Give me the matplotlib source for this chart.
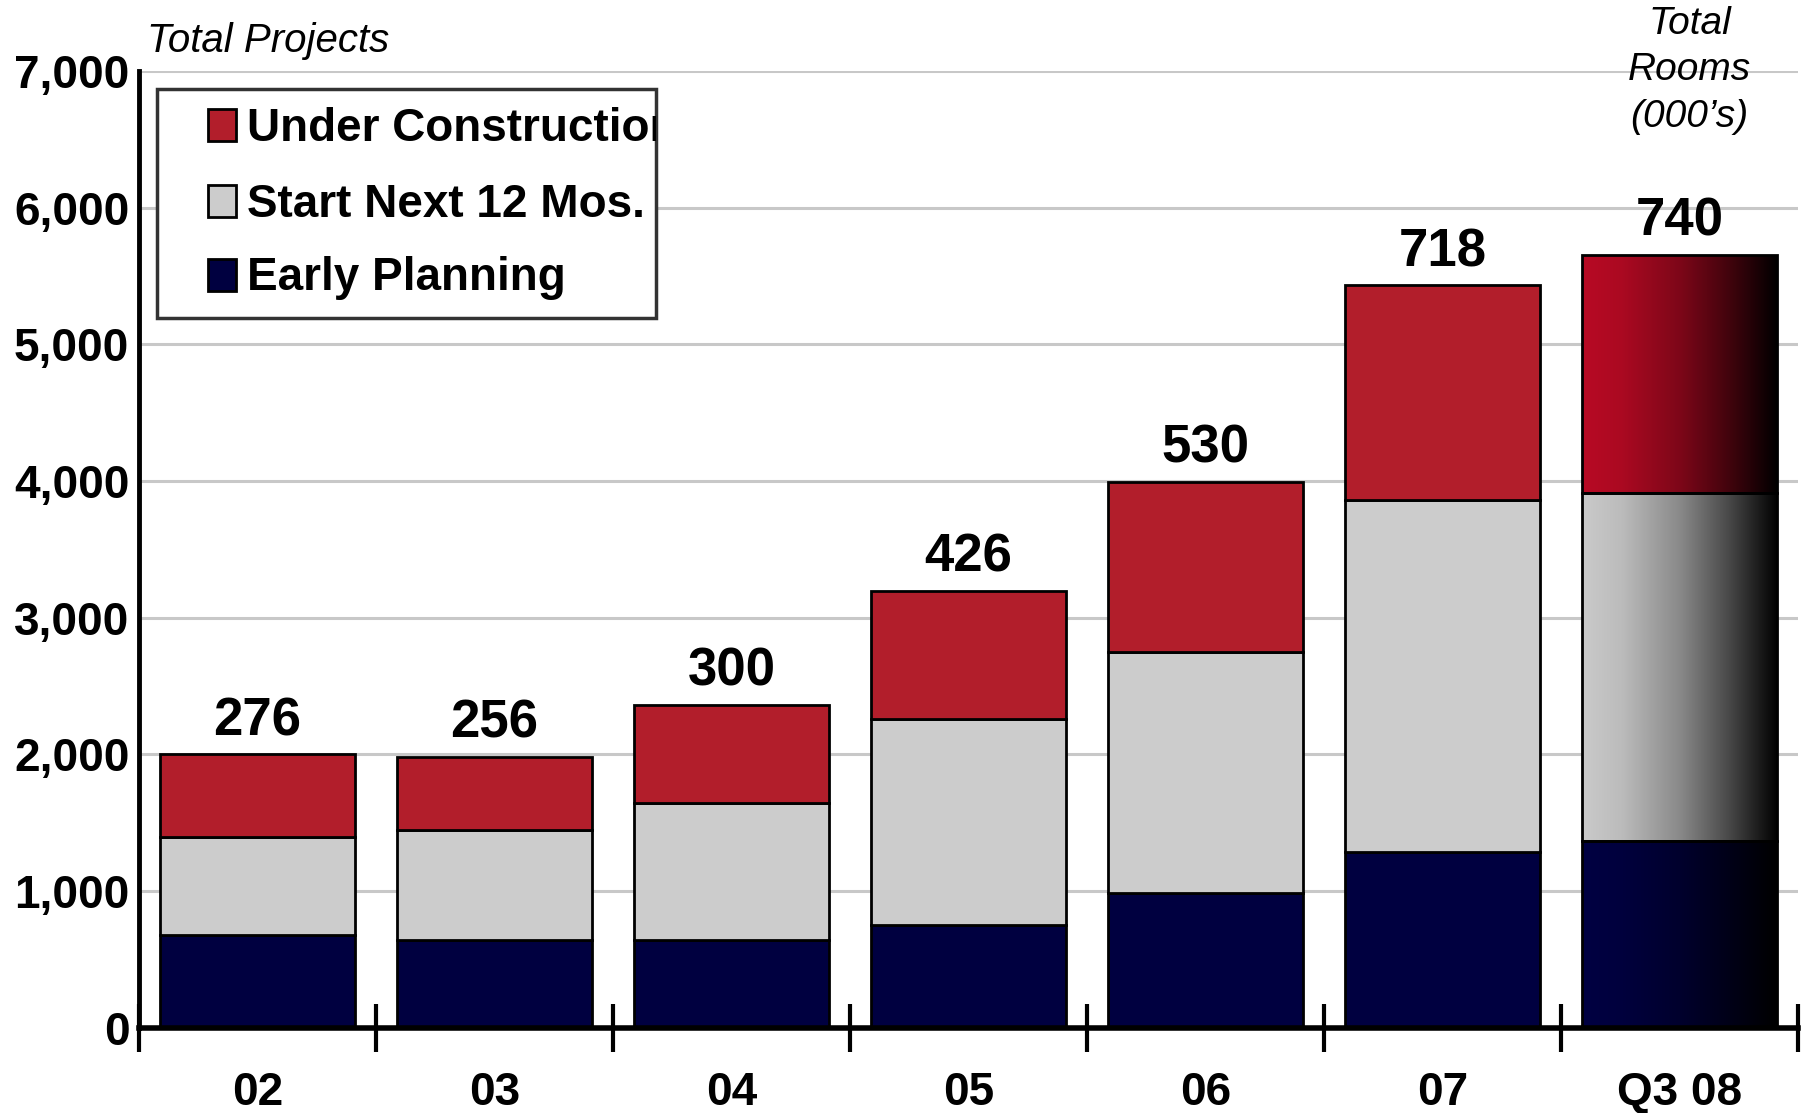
import numpy as np
import matplotlib
matplotlib.use('Agg')
from matplotlib import pyplot as plt
from matplotlib.patches import Rectangle
from matplotlib.colors import LinearSegmentedColormap, to_rgb

plt.rcParams['font.family'] = ['Liberation Sans', 'DejaVu Sans']

# data
years = ['02', '03', '04', '05', '06', '07', 'Q3 08']
early_planning = [680, 640, 640, 750, 990, 1290, 1370]
start_next = [720, 810, 1005, 1510, 1760, 2570, 2540]
under_construction = [600, 535, 715, 935, 1245, 1570, 1740]
total_rooms = ['276', '256', '300', '426', '530', '718', '740']
series_names = ['Under Construction', 'Start Next 12 Mos.', 'Early Planning']

red = '#b21e2b'
grey = '#cccccc'
navy = '#000040'

fig = plt.figure(figsize=(18.05, 11.13), dpi=100)
ax = fig.add_axes([0.077, 0.0764, 0.919, 0.860])

x = np.arange(len(years))
w = 0.825
b1 = ax.bar(x, early_planning, w, color=navy, edgecolor='black', lw=2, zorder=2)
bottom2 = np.array(early_planning)
b2 = ax.bar(x, start_next, w, bottom=bottom2, color=grey, edgecolor='black', lw=2, zorder=2)
bottom3 = bottom2 + np.array(start_next)
b3 = ax.bar(x, under_construction, w, bottom=bottom3, color=red, edgecolor='black', lw=2, zorder=2)

# gradient fill on the last bar (colour on the left fading to black on the right)
grad = np.linspace(0, 1, 256).reshape(1, -1)
for bars, c0 in [(b1, '#000042'), (b2, '#cacaca'), (b3, '#b80a24')]:
    p = bars[-1]
    r = np.array(to_rgb(c0))
    cm = LinearSegmentedColormap.from_list('g', [(0, r), (0.2, r * 0.93), (0.5, r * 0.68),
                                                 (0.75, r * 0.36), (1, (0, 0, 0))])
    p.set_facecolor('none')
    p.set_zorder(3)
    im = ax.imshow(grad, cmap=cm, aspect='auto', zorder=2.5,
                   extent=[p.get_x(), p.get_x() + p.get_width(), p.get_y(), p.get_y() + p.get_height()])
    im.set_clip_path(p)

tops = bottom3 + np.array(under_construction)
for xi, t, lab in zip(x, tops, total_rooms):
    ax.annotate(lab, (xi, t), xytext=(0, 14), textcoords='offset points',
                ha='center', va='baseline', fontsize=38, fontweight='bold')

ax.set_xlim(-0.5, len(years) - 0.5)
ax.set_ylim(0, 7000)
ax.set_yticks(range(0, 7001, 1000))
ax.set_yticklabels(['{:,}'.format(v) for v in range(0, 7001, 1000)], fontsize=33, fontweight='bold')
ax.tick_params(axis='y', length=0, pad=7)
ax.yaxis.grid(True, color='#c8c8c8', lw=2.2)
ax.set_axisbelow(True)

ax.set_xticks(np.arange(-0.5, len(years), 1))
ax.set_xticklabels([])
ax.set_xticks(x, minor=True)
ax.set_xticklabels(years, minor=True, fontsize=33, fontweight='bold')
ax.tick_params(axis='x', which='major', direction='inout', length=34, width=3)
ax.tick_params(axis='x', which='minor', length=0, pad=31)

for s in ['top', 'right']:
    ax.spines[s].set_visible(False)
ax.spines['left'].set_linewidth(3.5)
ax.spines['bottom'].set_linewidth(4)
ax.spines['left'].set_zorder(4)
ax.spines['bottom'].set_zorder(4)

# legend box drawn by hand so the long label gets clipped like the original
box = Rectangle((0.0108, 0.742), 0.3008, 0.239, transform=ax.transAxes,
                facecolor='white', edgecolor='#333333', lw=2.5, zorder=5, clip_on=False)
ax.add_patch(box)
rows = [0.9436, 0.864, 0.787]
for name, c, yy in zip(series_names, [red, grey, navy], rows):
    ax.add_patch(Rectangle((0.0416, yy - 0.0167), 0.0169, 0.0334, transform=ax.transAxes,
                           facecolor=c, edgecolor='black', lw=2, zorder=6, clip_on=False))
    t = ax.text(0.0651, yy - 0.004, name, transform=ax.transAxes, fontsize=33, fontweight='bold',
                va='center', ha='left', zorder=6, clip_on=True)
    t.set_clip_path(box)

fig.text(0.0814, 0.953, 'Total Projects', fontsize=29, style='italic', ha='left', va='baseline')
fig.text(0.936, 0.995, 'Total\nRooms\n(000\u2019s)', fontsize=28, style='italic',
         ha='center', va='top', linespacing=1.38)

fig.savefig('out.png', dpi=100)
